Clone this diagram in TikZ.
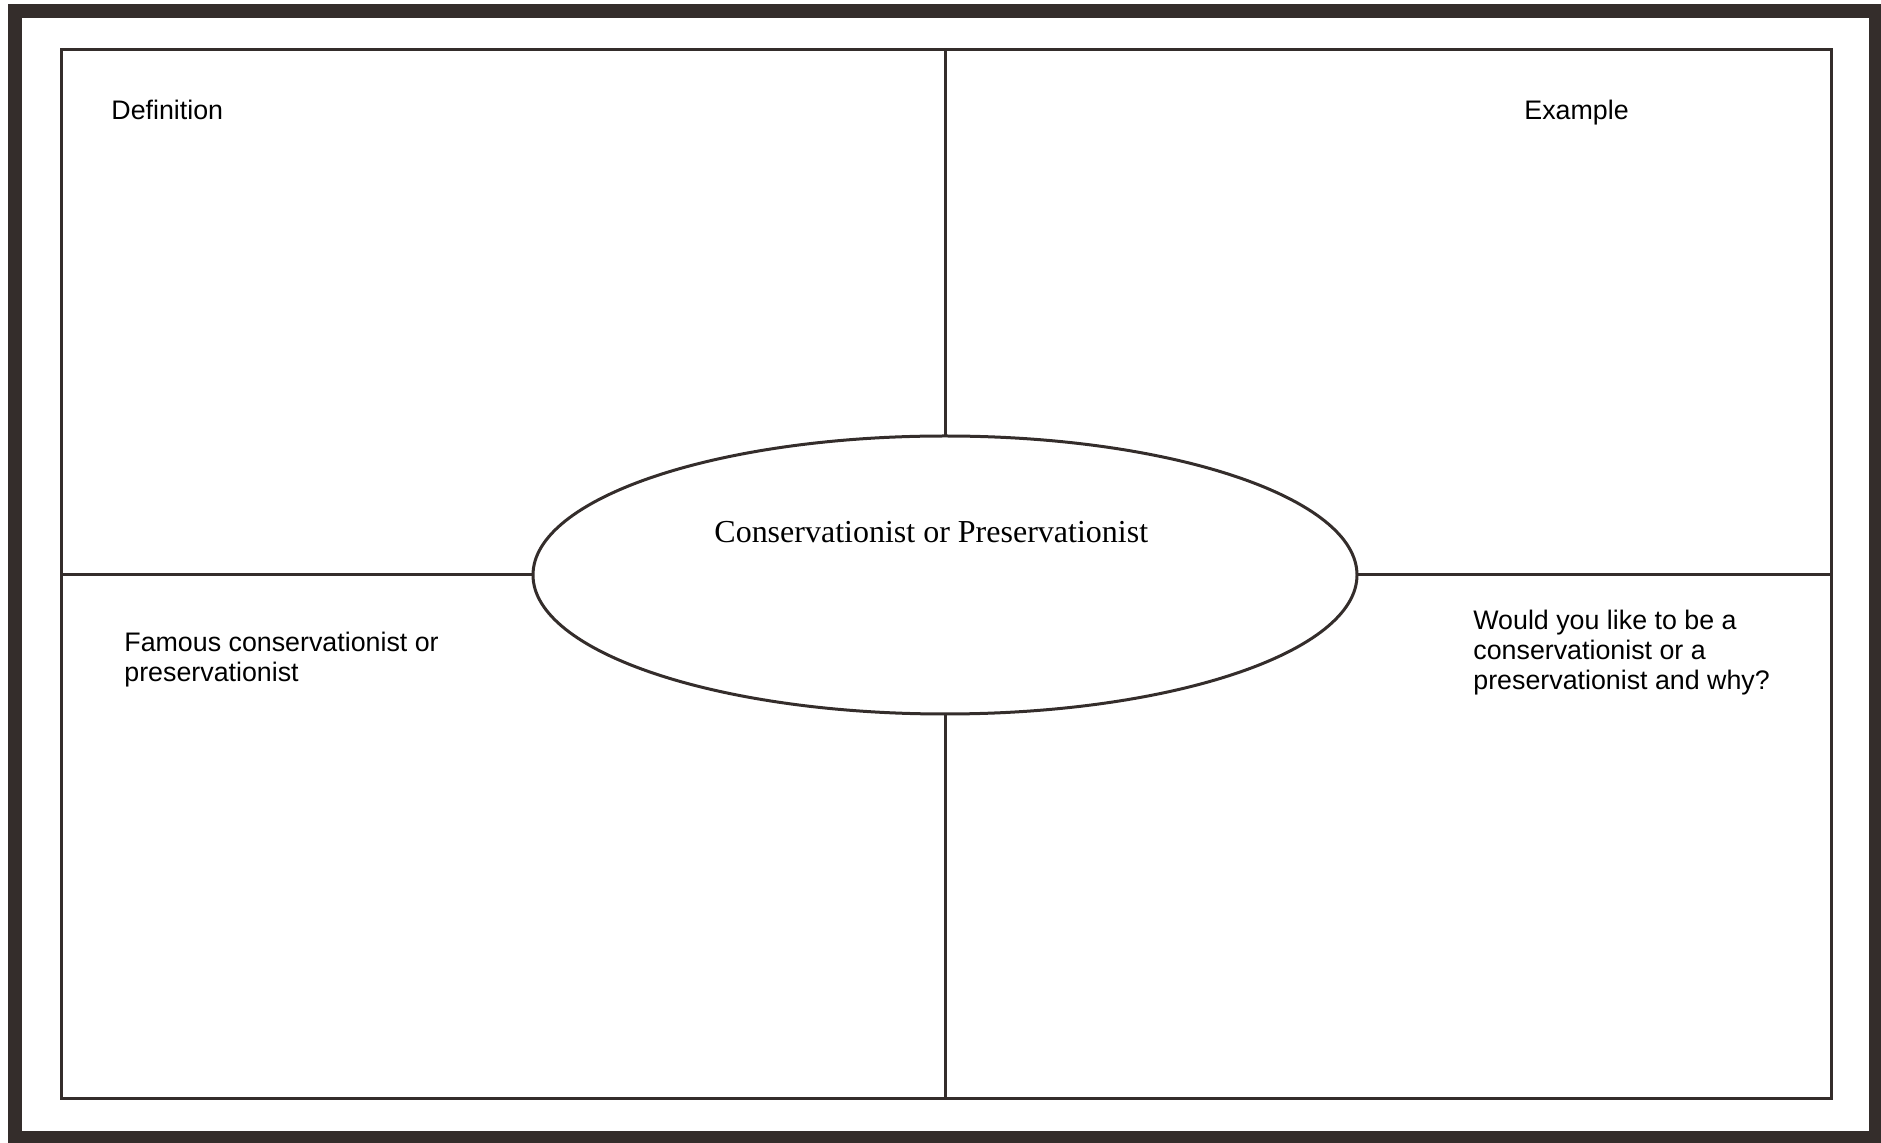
\documentclass[tikz,border=0pt]{standalone}
\usepackage{fontspec}
\setmainfont{Liberation Serif}
\newfontfamily\labelfont{Liberation Sans}
\usetikzlibrary{positioning}
\usetikzlibrary{shapes.geometric}
\definecolor{linecol}{RGB}{52,45,43}
\tikzset{
    field/.style={
    font=\labelfont\fontsize{13.4}{15.2}\selectfont,
    anchor=base west,
    inner sep=0pt,
    align=left
    },
    grid/.style={
    draw=linecol,
    line width=1.5pt
    }
}

\begin{document}
\begin{tikzpicture}[x=0.5pt,y=-0.5pt]
\useasboundingbox (0,0) rectangle (1881,1143);
\draw[linecol,line width=7pt] (15,11) rectangle (1876,1138);

\coordinate (tl) at (61,50);
\coordinate (br) at (1831,1099);
\draw[grid] (tl) rectangle (br);

\node [grid,ellipse,inner sep=0pt,outer sep=0pt,minimum width=412pt,minimum height=139pt](oval) at (945,575) {};

\draw[grid] (tl -| oval.north) -- (oval.north);
\draw[grid] (oval.south) -- (br -| oval.south);
\draw[grid] (tl |- oval.west) -- (oval.west);
\draw[grid] (oval.east) -- (br |- oval.east);

\node [field](defn) at (111,120) {Definition};
\node [field](expl) at (1524,120) {Example};
\node [field](famous) at (124,682) {Famous conservationist or\\preservationist};
\node [field](would) at (1473,690) {Would you like to be a\\conservationist or a\\preservationist and why?};
\node [font=\fontsize{16}{19}\selectfont,anchor=base west,inner sep=0pt](topic) at (714,543) {Conservationist or Preservationist};

\end{tikzpicture}
\end{document}
